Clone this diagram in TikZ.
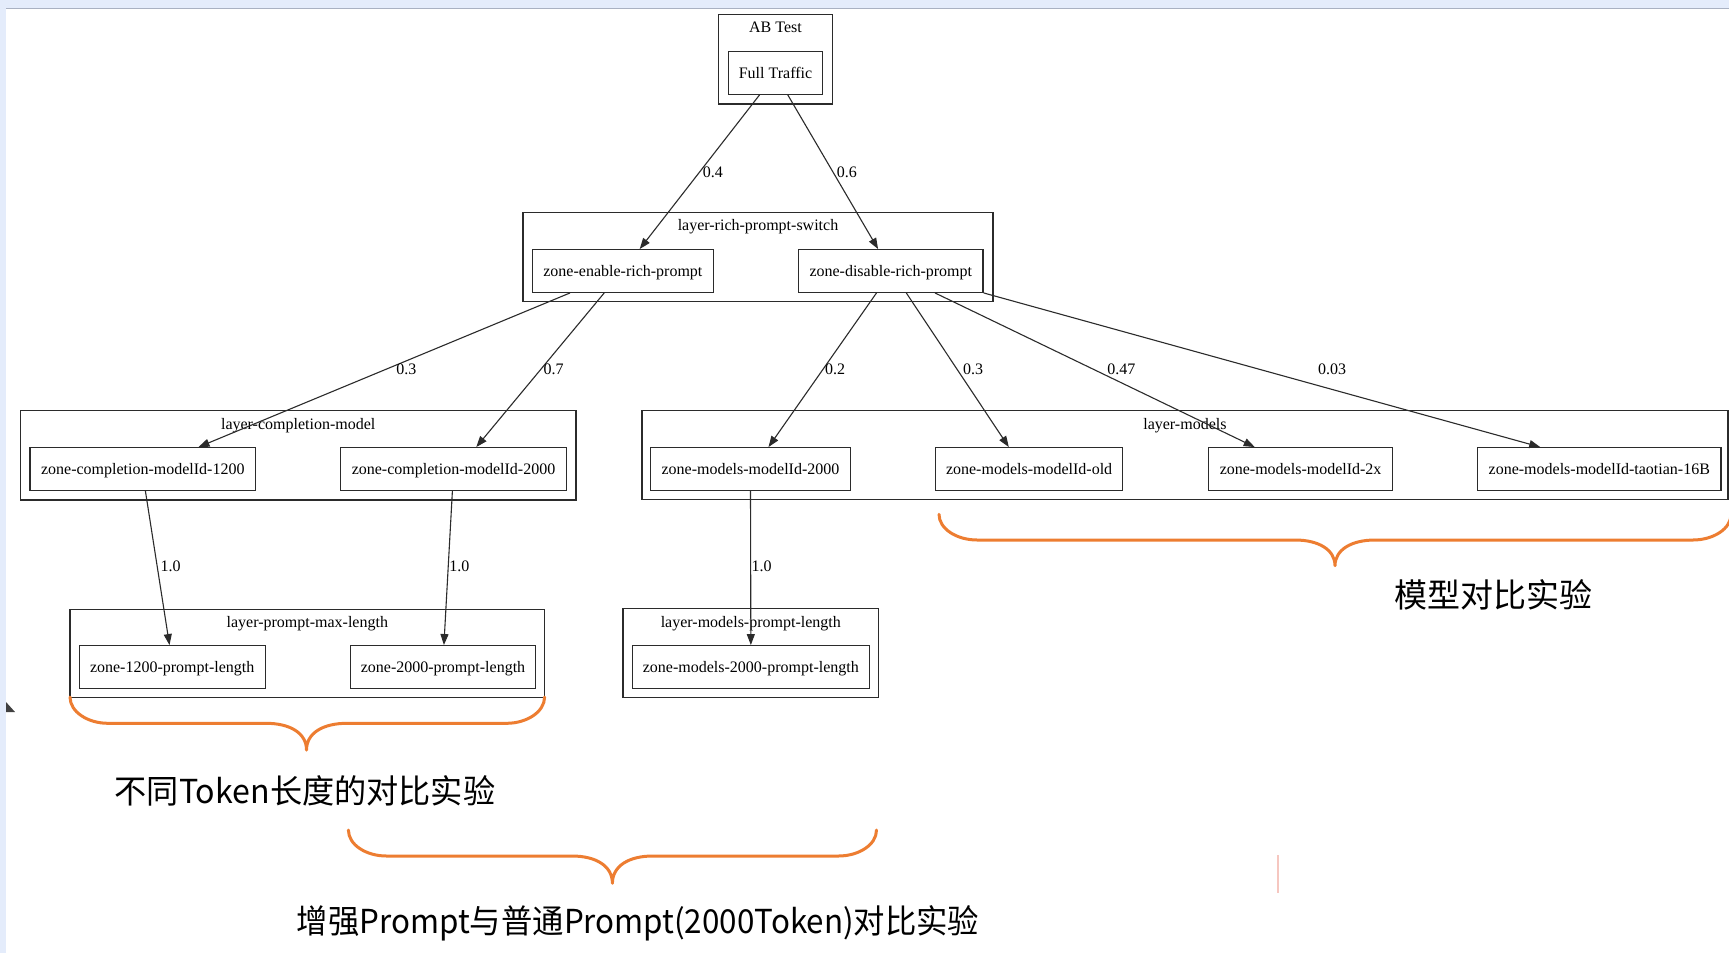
\documentclass[tikz,border=0pt]{standalone}
\usepackage{fontspec}
\setmainfont{Liberation Serif}
\newfontfamily\cjkfont{Noto Sans CJK SC}
\usetikzlibrary{arrows.meta,calc}
\definecolor{braceorange}{HTML}{ED7D31}
\definecolor{bgblue}{HTML}{E4ECFB}
\definecolor{bgline}{HTML}{A9B1C2}
\definecolor{pinkline}{HTML}{F6C7C0}
\definecolor{ink}{HTML}{2B2B2B}
\begin{document}
\begin{tikzpicture}[x=1pt,y=-1pt,
  font=\fontsize{16pt}{19pt}\selectfont,
  zone/.style={draw=ink, line width=1.3pt, rectangle, inner sep=0pt, minimum height=42.6pt, text height=13pt, text depth=3pt},
  cluster/.style={draw=ink, line width=1.3pt, rectangle, inner sep=0pt},
  clabel/.style={inner sep=0pt, text height=11pt, text depth=3.5pt},
  edge/.style={draw=ink, line width=1.1pt, -{Triangle[length=11pt,width=8pt]}},
  elabel/.style={anchor=west, inner sep=0pt},
  brace/.style={draw=braceorange, line width=3pt, line cap=round, line join=round},
  note/.style={font=\cjkfont\fontsize{33pt}{38pt}\selectfont, inner sep=0pt}
]
\useasboundingbox (0,0) rectangle (1729,953);
\fill[white] (0,0) rectangle (1729,953);
\fill[bgblue] (0,0) rectangle (1729,8);
\fill[bgblue] (0,0) rectangle (6,953);
\draw[bgline, line width=1.5pt] (6,8.7) -- (1729,8.7);
\fill[black!75] (6,702) -- (6,712) -- (15,712) -- cycle;

% clusters
\node[cluster, minimum width=114pt, minimum height=89.7pt] (abtest) at (775.5,59.2) {};
\node[clabel] (abtestlbl) at ($(abtest.north)+(0,15)$) {AB Test};
\node[cluster, minimum width=470pt, minimum height=89.4pt] (lrps) at (758,257) {};
\node[clabel] (lrpslbl) at ($(lrps.north)+(0,15.5)$) {layer-rich-prompt-switch};
\node[cluster, minimum width=555.7pt, minimum height=89.3pt] (lcm) at (298.2,455.4) {};
\node[clabel] (lcmlbl) at ($(lcm.north)+(0,15.5)$) {layer-completion-model};
\node[cluster, minimum width=1086pt, minimum height=88.6pt] (lm) at (1184.9,455) {};
\node[clabel] (lmlbl) at ($(lm.north)+(0,15.5)$) {layer-models};
\node[cluster, minimum width=474.6pt, minimum height=88pt] (lpml) at (307.3,653.3) {};
\node[clabel] (lpmllbl) at ($(lpml.north)+(0,15.5)$) {layer-prompt-max-length};
\node[cluster, minimum width=255.6pt, minimum height=89pt] (lmpl) at (750.8,653.3) {};
\node[clabel] (lmpllbl) at ($(lmpl.north)+(0,15.5)$) {layer-models-prompt-length};

% zones
\node[zone, minimum width=94pt] (ft) at (775.5,73) {Full Traffic};
\node[zone, minimum width=180.7pt] (enable) at (622.9,271) {zone-enable-rich-prompt};
\node[zone, minimum width=184.5pt] (disable) at (890.8,271) {zone-disable-rich-prompt};
\node[zone, minimum width=225.7pt] (cm1200) at (142.8,469) {zone-completion-modelId-1200};
\node[zone, minimum width=225.8pt] (cm2000) at (453.5,469) {zone-completion-modelId-2000};
\node[zone, minimum width=200pt] (m2000) at (750.5,469) {zone-models-modelId-2000};
\node[zone, minimum width=187.2pt] (mold) at (1029.1,469) {zone-models-modelId-old};
\node[zone, minimum width=184.3pt] (m2x) at (1300.6,469) {zone-models-modelId-2x};
\node[zone, minimum width=243.4pt] (mtt) at (1599.3,469) {zone-models-modelId-taotian-16B};
\node[zone, minimum width=186pt] (p1200) at (172.2,667) {zone-1200-prompt-length};
\node[zone, minimum width=185.6pt] (p2000) at (443,667) {zone-2000-prompt-length};
\node[zone, minimum width=237pt] (mp2000) at (750.85,667) {zone-models-2000-prompt-length};

% edges
\draw[edge] ([xshift=-16pt]ft.south) -- node[elabel, pos=0.5, xshift=2.8pt] {0.4} ([xshift=16.8pt]enable.north);
\draw[edge] ([xshift=12.3pt]ft.south) -- node[elabel, pos=0.5, xshift=3.3pt] {0.6} ([xshift=-12.7pt]disable.north);
\draw[edge] ([xshift=-52.9pt]enable.south) -- node[elabel, pos=0.494, xshift=9.3pt] {0.3} ([xshift=55.7pt]cm1200.north);
\draw[edge] ([xshift=-18.7pt]enable.south) -- node[elabel, pos=0.494, xshift=2pt] {0.7} ([xshift=22.8pt]cm2000.north);
\draw[edge] ([xshift=-14.3pt]disable.south) -- node[elabel, pos=0.494, xshift=1.5pt] {0.2} ([xshift=18pt]m2000.north);
\draw[edge] ([xshift=15.5pt]disable.south) -- node[elabel, pos=0.494, xshift=5.6pt] {0.3} ([xshift=-20.3pt]mold.north);
\draw[edge] ([xshift=44.2pt]disable.south) -- node[elabel, pos=0.494, xshift=14pt] {0.47} ([xshift=-45.9pt]m2x.north);
\draw[edge] (disable.south east) -- node[elabel, pos=0.494, xshift=59pt] {0.03} ([xshift=-59.1pt]mtt.north);
\draw[edge] ([xshift=2.6pt]cm1200.south) -- node[elabel, pos=0.49, xshift=2.8pt] {1.0} ([xshift=-2.7pt]p1200.north);
\draw[edge] ([xshift=-1.1pt]cm2000.south) -- node[elabel, pos=0.49, xshift=0.5pt] {1.0} ([xshift=0.9pt]p2000.north);
\draw[edge] (m2000.south) -- node[elabel, pos=0.49, xshift=0.5pt] {1.0} (mp2000.north);

% braces
\draw[brace] (70,697) .. controls (70,712) and (88,723.3) .. (108,723.3)
  -- (266,723.3) .. controls (290,723.3) and (306.5,733) .. (306.5,750)
  .. controls (306.5,733) and (323,723.3) .. (347,723.3)
  -- (506.6,723.3) .. controls (526.6,723.3) and (544.6,712) .. (544.6,697);
\draw[brace] (348.4,830) .. controls (348.4,845) and (366.4,856) .. (386.4,856)
  -- (572,856) .. controls (596,856) and (612.4,866) .. (612.4,883.3)
  .. controls (612.4,866) and (628.8,856) .. (652.8,856)
  -- (838.5,856) .. controls (858.5,856) and (876.5,845) .. (876.5,830);
\draw[brace] (939,514.3) .. controls (939,529) and (957,540) .. (977,540)
  -- (1295,540) .. controls (1319,540) and (1335,550) .. (1335,565.7)
  .. controls (1335,550) and (1351,540) .. (1375,540)
  -- (1693,540) .. controls (1713,540) and (1731,529) .. (1731,514.3);

\draw[pinkline, line width=2pt] (1277.5,855) -- (1277.5,893);

% notes
\node[note] (n1) at (1493.7,595) {模型对比实验};
\node[note, xscale=0.975, transform shape] (n2) at (305,791) {不同Token长度的对比实验};
\node[note, xscale=0.95, transform shape] (n3) at (638,923) {增强Prompt与普通Prompt(2000Token)对比实验};
\end{tikzpicture}
\end{document}
